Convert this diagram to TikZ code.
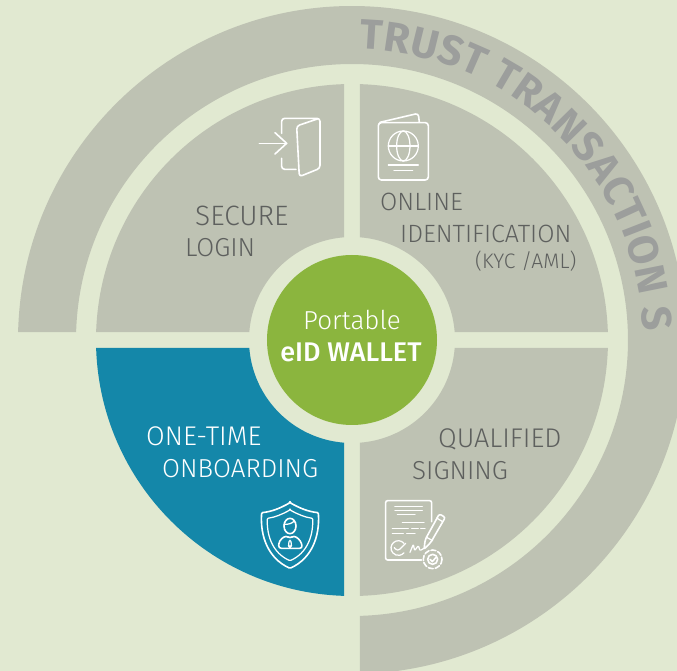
\documentclass[tikz,border=0pt]{standalone}
\usepackage{fontspec}
\setmainfont{Fira Sans Light}[BoldFont={Fira Sans Bold}]
\newfontfamily\midfont{Fira Sans Medium}
\usetikzlibrary{decorations.text}
\definecolor{bgc}{HTML}{E1E9D1}
\definecolor{sect}{HTML}{BEC2B3}
\definecolor{teal}{HTML}{1487A9}
\definecolor{leaf}{HTML}{8BB53E}
\definecolor{ink}{HTML}{5E605E}
\definecolor{arcink}{HTML}{9C9E9C}
\newcommand{\fs}[1]{\fontsize{#1}{#1}\selectfont}
\tikzset{
  px/.style={x=1pt,y=-1pt,shift={(-352pt,340pt)}},
  lab/.style={anchor=base west,inner sep=0pt,text=ink,font=\fs{26}},
  wlab/.style={lab,text=white},
  ico/.style={draw=white,line width=1.6pt,line cap=round,line join=round,rounded corners=3pt},
  icothin/.style={ico,line width=1.25pt},
}
\newcommand{\quadsec}[2]{\fill[#1,rotate=#2] (1.79:256pt) arc[start angle=1.79,end angle=88.21,radius=256pt] -- (85.55:103pt) arc[start angle=85.55,end angle=4.45,radius=103pt] -- cycle;}
\begin{document}
\begin{tikzpicture}[x=1pt,y=1pt]
\useasboundingbox (-352,-331) rectangle (325,340);
\fill[bgc] (-352,-331) rectangle (325,340);
\clip (-352,-331) rectangle (325,340);
% outer band
\fill[sect] (178.63:334) arc[start angle=178.63,end angle=-88.63,radius=334] -- (-88.34:276) arc[start angle=-88.34,end angle=178.34,radius=276] -- cycle;
\path[decorate,decoration={text along path,text align={fit to path},text={|\fs{42}\bfseries\color{arcink}|TRUST TRANSACTION S}}]
  (88.6:291) arc[start angle=88.6,end angle=1.8,radius=291];
% quadrants
\quadsec{sect}{0}
\quadsec{sect}{90}
\quadsec{teal}{180}
\quadsec{sect}{270}
% hub
\node[circle,fill=leaf,minimum size=170pt,inner sep=0pt] (hub) at (0,0) {};
\begin{scope}[px]
\node[anchor=base,inner sep=0pt,text=white,font=\fs{26}] (t1) at (352,330) {Portable};
\node[anchor=base,inner sep=0pt,text=white,font=\fs{27}\midfont] (t2) at (351,362) {eID WALLET};
\node[lab,font=\fs{28}] (a1) at (195,225.5) {SECURE};
\node[lab] (a2) at (185,256.5) {LOGIN};
\node[lab,font=\fs{25}] (b1) at (380,211) {ONLINE};
\node[lab,font=\fs{25}] (b2) at (400,243) {IDENTIFICATION};
\node[lab,font=\fs{21}] (b3) at (475,269) {(KYC /AML)};
\node[wlab,font=\fs{27}] (c1) at (146,446) {ONE-TIME};
\node[wlab] (c2) at (162,478) {ONBOARDING};
\node[lab,font=\fs{27}] (d1) at (438,448) {QUALIFIED};
\node[lab] (d2) at (412,480) {SIGNING};
\end{scope}
% door and passport icons
\begin{scope}[x=0.3333pt,y=-0.3333pt,shift={(-112pt,250pt)}]
\draw[ico] (58,160) -- (140,160);
\draw[ico,rounded corners=0pt] (105,128) -- (140,160) -- (105,192);
\draw[ico] (125,130) -- (125,85) -- (240,85) -- (240,235) -- (178,260) -- (170,108) -- (235,86);
\draw[ico] (125,205) -- (125,238) -- (168,238);
\draw[ico] (415,98) rectangle (565,270);
\draw[ico] (420,97) -- (535,70) -- (538,97);
\draw[icothin] (490,168) circle[radius=45];
\draw[icothin] (490,168) ellipse[x radius=20,y radius=45];
\draw[icothin] (445,168) -- (535,168);
\draw[icothin] (445,225) -- (535,225);
\draw[icothin] (462,242) -- (518,242);
\end{scope}
% shield and document icons
\begin{scope}[x=0.3333pt,y=-0.3333pt,shift={(-112pt,-150pt)}]
\draw[ico,rounded corners=1pt] (150,38) .. controls (120,55) and (95,65) .. (65,68) .. controls (60,140) and (85,205) .. (150,235) .. controls (215,205) and (240,140) .. (235,68) .. controls (205,65) and (180,55) .. (150,38) -- cycle;
\draw[icothin,rounded corners=1pt] (150,60) .. controls (128,72) and (105,82) .. (82,85) .. controls (80,140) and (100,190) .. (150,212) .. controls (200,190) and (220,140) .. (218,85) .. controls (195,82) and (172,72) .. (150,60) -- cycle;
\draw[ico] (150,108) ellipse[x radius=18,y radius=23];
\draw[icothin] (132,103) .. controls (145,104) and (156,100) .. (162,94);
\draw[ico] (115,175) -- (118,152) -- (138,136) -- (150,146) -- (162,136) -- (182,152) -- (188,175) -- cycle;
\draw[icothin] (150,146) -- (144,165) -- (150,174) -- (156,165) -- cycle;
\draw[ico,rounded corners=2pt] (575,95) -- (575,32) -- (437,32) -- (437,210) -- (545,210);
\draw[ico] (465,50) -- (547,50);
\draw[icothin] (465,62) -- (547,62);
\draw[icothin] (472,74) -- (525,74);
\draw[icothin] (487,97) -- (552,97);
\draw[icothin] (457,115) -- (505,115) (515,115) -- (535,115) (542,115) -- (555,115);
\draw[icothin] (457,130) -- (490,130) (500,130) -- (525,130);
\draw[icothin] (492,160) arc[start angle=-40,end angle=-320,radius=22];
\draw[icothin] (463,173) -- (473,184) -- (497,160);
\draw[icothin,rounded corners=1pt] (510,187) -- (520,163) -- (524,182) -- (535,167) -- (540,182) -- (552,175);
\draw[ico,rounded corners=2pt] (598,72) -- (616,82) -- (572,158) -- (552,178) -- (556,148) -- cycle;
\draw[icothin] (590,84) -- (608,95);
\draw[icothin] (560,142) -- (578,152);
\draw[ico,dash pattern=on 5pt off 2pt] (578,208) circle[radius=28];
\draw[ico] (578,208) circle[radius=15];
\draw[ico,rounded corners=0pt] (570,208) -- (577,215) -- (588,202);
\end{scope}
\end{tikzpicture}
\end{document}
